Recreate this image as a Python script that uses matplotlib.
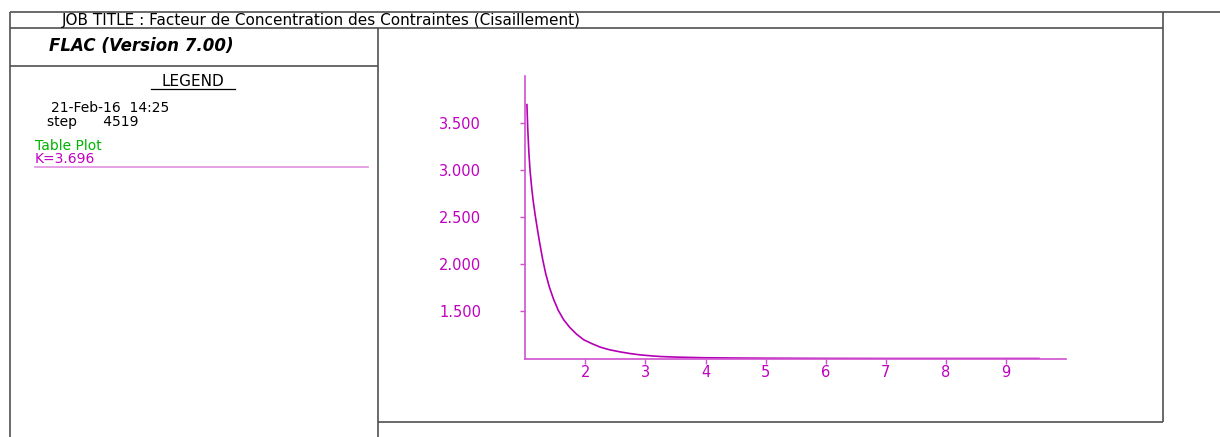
import matplotlib
matplotlib.use("Agg")
import matplotlib.pyplot as plt
from matplotlib.ticker import FixedLocator, FormatStrFormatter

# ---- data ----
r_values = [1.027, 1.04, 1.06, 1.08, 1.105, 1.13, 1.165, 1.20, 1.24, 1.29, 1.34, 1.40,
            1.47, 1.55, 1.64, 1.74, 1.85, 1.97, 2.1, 2.25, 2.4, 2.58, 2.75, 2.92, 3.1,
            3.25, 3.5, 3.97, 4.5, 5.0, 6.0, 7.0, 8.0, 9.0, 9.55]
k_values = [3.696, 3.45, 3.18, 2.99, 2.82, 2.68, 2.52, 2.38, 2.225, 2.05, 1.90, 1.76,
            1.63, 1.51, 1.41, 1.33, 1.26, 1.20, 1.16, 1.12, 1.093, 1.07, 1.052, 1.038, 1.028,
            1.021, 1.015, 1.008, 1.005, 1.003, 1.001, 1.0, 1.0, 1.0, 1.0]
x_ticks = [2, 3, 4, 5, 6, 7, 8, 9]
y_ticks = [1.5, 2.0, 2.5, 3.0, 3.5]

job_title = "JOB TITLE : Facteur de Concentration des Contraintes (Cisaillement)"
program = "FLAC (Version 7.00)"
legend_title = "LEGEND"
date_line = "21-Feb-16  14:25"
step_line = "step      4519"
plot_kind = "Table Plot"
series_label = "K=3.696"

W, H = 1220, 437
FONT = "DejaVu Sans"
MAG = "#c000c0"
CURVE = "#b400b4"
AXC = "#d050d0"
FRAME = "#505050"

fig = plt.figure(figsize=(W / 100, H / 100), dpi=100)
fig.patch.set_facecolor("white")

# frame overlay in pixel coordinates
ov = fig.add_axes([0, 0, 1, 1])
ov.set_xlim(0, W)
ov.set_ylim(H, 0)
ov.axis("off")
lw = 1.2
segs = [((10, 12), (1220, 12)), ((10, 28), (1163, 28)), ((10, 12), (10, 437)),
        ((1163, 12), (1163, 422)), ((378, 28), (378, 437)), ((10, 66), (378, 66)),
        ((378, 422), (1163, 422))]
for (x0, y0), (x1, y1) in segs:
    ov.plot([x0, x1], [y0, y1], color=FRAME, lw=lw, solid_capstyle="butt")

ov.text(62, 20.5, job_title, family=FONT, fontsize=11, va="center", ha="left", color="black")
ov.text(49, 46, program, family=FONT, fontsize=12, weight="bold", style="italic",
        va="center", ha="left", color="black")
ov.text(193, 81, legend_title, family=FONT, fontsize=11, va="center", ha="center", color="black")
ov.plot([151, 235], [88.5, 88.5], color="black", lw=0.9)
ov.text(51, 108.5, date_line, family=FONT, fontsize=10, va="center", ha="left", color="black")
ov.text(47, 122, step_line, family=FONT, fontsize=10, va="center", ha="left", color="black")
ov.text(35, 145.5, plot_kind, family=FONT, fontsize=10, va="center", ha="left", color="#00b400")
ov.text(35, 159, series_label, family=FONT, fontsize=10, va="center", ha="left", color=MAG)
ov.plot([35, 368], [166.5, 166.5], color="#e090e0", lw=1.2)

# main plot
left = 524.7 / W
right = 1066 / W
bottom = 1 - 358.5 / H
top = 1 - 76 / H
ax = fig.add_axes([left, bottom, right - left, top - bottom])
ax.set_facecolor("none")
ax.plot(r_values, k_values, color=CURVE, lw=1.2)
ax.set_xlim(0.99, 10.0)
ax.set_ylim(1.0, 4.0)
for s in ["top", "right"]:
    ax.spines[s].set_visible(False)
for s in ["left", "bottom"]:
    ax.spines[s].set_color(AXC)
    ax.spines[s].set_linewidth(1.2)
ax.xaxis.set_major_locator(FixedLocator(x_ticks))
ax.yaxis.set_major_locator(FixedLocator(y_ticks))
ax.yaxis.set_major_formatter(FormatStrFormatter("%.3f"))
ax.tick_params(axis="both", colors=AXC, labelcolor=MAG, length=3.5, width=1.0, direction="out")
ax.tick_params(axis="y", pad=28)
ax.tick_params(axis="x", pad=1)
for lab in ax.get_xticklabels() + ax.get_yticklabels():
    lab.set_family(FONT)
    lab.set_fontsize(10.5)

fig.savefig("out.png", dpi=100)
